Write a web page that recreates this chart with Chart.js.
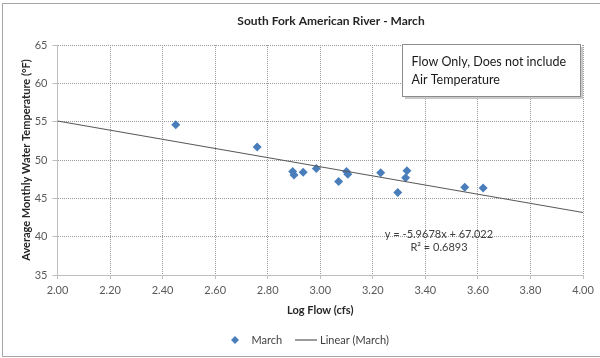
<!DOCTYPE html>
<html>
<head>
<meta charset="utf-8">
<title>South Fork American River - March</title>
<script src="https://cdn.jsdelivr.net/npm/chart.js@4.4.0/dist/chart.umd.min.js"></script>
<style>
  html, body { margin: 0; padding: 0; background: #fff; }
  canvas { display: block; }
</style>
</head>
<body>
<canvas id="chart" width="600" height="358"></canvas>
<script>
// ===== DATA =====
const chartTitle = "South Fork American River - March";
const logFlow = [2.45, 2.76, 2.895, 2.90, 2.935, 2.985, 3.07, 3.10, 3.105, 3.23, 3.295, 3.33, 3.325, 3.55, 3.62];
const waterTemp = [54.6, 51.7, 48.5, 48.05, 48.4, 48.9, 47.2, 48.5, 48.15, 48.35, 45.75, 48.6, 47.7, 46.45, 46.35];
const xTickValues = [2.0, 2.2, 2.4, 2.6, 2.8, 3.0, 3.2, 3.4, 3.6, 3.8, 4.0];
const yTickValues = [35, 40, 45, 50, 55, 60, 65];
const trendRange = [2.0, 4.0];
const slope = -5.9678;
const intercept = 67.022;
const rSquared = 0.6893;
const noteLines = ["Flow Only, Does not include", "Air Temperature"];

const FONT = "Lato, 'Liberation Sans', sans-serif";
const BLUE = "#4a7ebb";

// ===== HELPERS =====
const points = logFlow.map((x, i) => ({ x: x, y: waterTemp[i] }));
const trendPoints = trendRange.map(x => ({ x: x, y: slope * x + intercept }));

function diamond(ctx, x, y, r) {
  ctx.beginPath();
  ctx.moveTo(x, y - r);
  ctx.lineTo(x + r, y);
  ctx.lineTo(x, y + r);
  ctx.lineTo(x - r, y);
  ctx.closePath();
  ctx.fill();
}

// ===== EXTRA DRAWING (frame, title, note box, equation, legend) =====
const extras = {
  id: "extras",
  afterDraw(chart) {
    const ctx = chart.ctx;
    ctx.save();

    // outer frame
    ctx.strokeStyle = "#a6a6a6";
    ctx.lineWidth = 1;
    ctx.strokeRect(2.5, 3.5, 600, 353);

    // title
    ctx.fillStyle = "#262626";
    ctx.font = "bold 12px " + FONT;
    ctx.textAlign = "center";
    ctx.textBaseline = "middle";
    ctx.fillText(chartTitle, 331, 21);

    // note box with a small shadow
    ctx.fillStyle = "#c9c9c9";
    ctx.fillRect(405, 47, 178, 52);
    ctx.fillStyle = "#fff";
    ctx.fillRect(402.5, 44.5, 178, 52);
    ctx.strokeStyle = "#8c8c8c";
    ctx.strokeRect(402.5, 44.5, 178, 52);
    ctx.fillStyle = "#1a1a1a";
    ctx.font = "12.5px " + FONT;
    ctx.textAlign = "left";
    ctx.fillText(noteLines[0], 411.5, 62);
    ctx.fillText(noteLines[1], 411.5, 80);

    // trendline equation
    ctx.fillStyle = "#404040";
    ctx.font = "11px " + FONT;
    ctx.textAlign = "center";
    const sign = intercept >= 0 ? " + " : " - ";
    ctx.fillText("y = " + slope.toFixed(4) + "x" + sign + Math.abs(intercept).toFixed(3), 439, 234);
    ctx.fillText("R\u00b2 = " + rSquared.toFixed(4), 439, 247);

    // legend
    const ly = 340;
    ctx.fillStyle = BLUE;
    diamond(ctx, 235, ly, 4);
    ctx.fillStyle = "#404040";
    ctx.textAlign = "left";
    ctx.fillText(chart.data.datasets[1].label, 251.5, ly);
    ctx.strokeStyle = "#595959";
    ctx.lineWidth = 1.2;
    ctx.beginPath();
    ctx.moveTo(295, ly);
    ctx.lineTo(317, ly);
    ctx.stroke();
    ctx.fillText(chart.data.datasets[0].label, 320, ly);

    ctx.restore();
  }
};

// ===== CHART =====
const ctx = document.getElementById("chart").getContext("2d");
new Chart(ctx, {
  type: "scatter",
  data: {
    datasets: [
      {
        type: "line",
        label: "Linear (March)",
        data: trendPoints,
        borderColor: "#595959",
        borderWidth: 1.2,
        pointRadius: 0,
        fill: false
      },
      {
        label: "March",
        data: points,
        pointStyle: "rectRot",
        pointRadius: 4.5,
        backgroundColor: BLUE,
        borderColor: BLUE,
        borderWidth: 0
      }
    ]
  },
  options: {
    responsive: false,
    animation: false,
    devicePixelRatio: 1,
    layout: { padding: { top: 45, right: 17, bottom: 0, left: 0 } },
    plugins: {
      legend: { display: false },
      title: { display: false },
      tooltip: { enabled: false }
    },
    scales: {
      x: {
        type: "linear",
        position: "bottom",
        min: 2,
        max: 4,
        afterBuildTicks: s => { s.ticks = xTickValues.map(v => ({ value: v })); },
        afterFit: s => { s.height = 83; },
        ticks: {
          color: "#595959",
          font: { family: FONT, size: 11 },
          padding: 5,
          maxRotation: 0,
          autoSkip: false,
          callback: v => Number(v).toFixed(2)
        },
        grid: { color: "#9a9a9a", lineWidth: 1, tickLength: 4, tickColor: "#bfbfbf", tickBorderDash: [] },
        border: { display: true, color: "#bfbfbf", width: 1, dash: [1, 1] },
        title: {
          display: true,
          text: "Log Flow (cfs)",
          color: "#262626",
          font: { family: FONT, size: 11, weight: "bold", lineHeight: 1.2 },
          padding: { top: 0, bottom: 41 }
        }
      },
      y: {
        min: 35,
        max: 65,
        afterBuildTicks: s => { s.ticks = yTickValues.map(v => ({ value: v })); },
        afterFit: s => { s.width = 57.5; },
        ticks: {
          color: "#595959",
          font: { family: FONT, size: 11 },
          padding: 5
        },
        grid: { color: "#9a9a9a", lineWidth: 1, tickLength: 5, tickColor: "#bfbfbf", tickBorderDash: [] },
        border: { display: true, color: "#bfbfbf", width: 1, dash: [1, 1] },
        title: {
          display: true,
          text: "Average Monthly Water Temperature (\u00b0F)",
          color: "#262626",
          font: { family: FONT, size: 11, weight: "bold", lineHeight: 1.2 },
          padding: { top: 20, bottom: 0 }
        }
      }
    }
  },
  plugins: [extras]
});
</script>
</body>
</html>
